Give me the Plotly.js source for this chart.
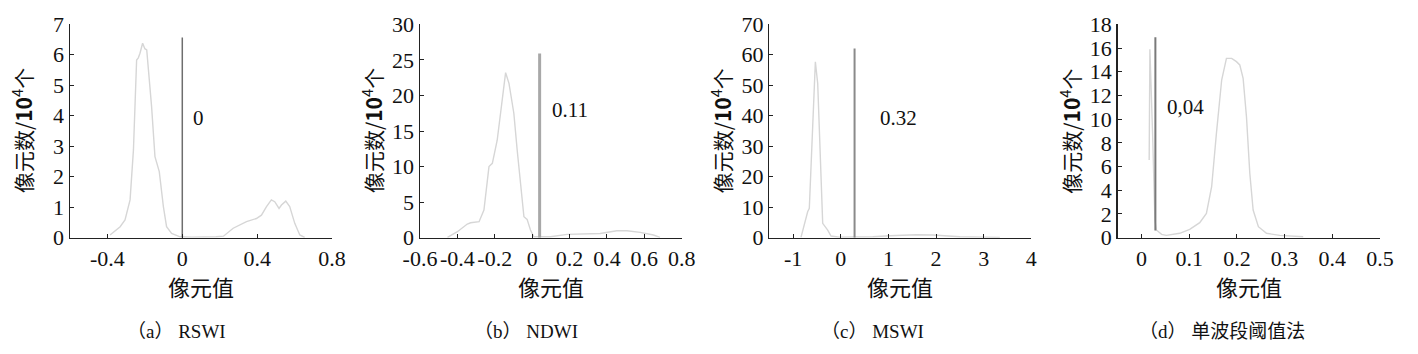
<!DOCTYPE html>
<html>
<head>
<meta charset="utf-8">
<script src="https://cdn.plot.ly/plotly-3.0.1.min.js"></script>
<style>
html,body{margin:0;padding:0;background:#fff;}
#chart{width:1418px;height:354px;}
</style>
</head>
<body>
<div id="chart"></div>
<script>
// ---- Data ----
// (a) RSWI
const rswiX = [-0.386,-0.332,-0.306,-0.279,-0.261,-0.244,-0.235,-0.226,-0.212,-0.200,-0.190,-0.181,-0.164,-0.146,-0.123,-0.101,-0.084,-0.057,-0.012,0.05,0.12,0.18,0.22,0.272,0.343,0.396,0.423,0.450,0.476,0.494,0.517,0.530,0.553,0.574,0.601,0.628,0.654];
const rswiY = [0.09,0.36,0.58,1.24,2.88,5.83,5.9,6.05,6.38,6.2,6.16,5.6,4.3,2.66,2.17,1.02,0.36,0.14,0.03,0.02,0.02,0.03,0.05,0.31,0.53,0.63,0.74,1.02,1.24,1.18,0.96,1.07,1.2,1.02,0.47,0.09,0.01];
// (b) NDWI
const ndwiX = [-0.453,-0.400,-0.347,-0.329,-0.284,-0.258,-0.231,-0.213,-0.187,-0.160,-0.142,-0.124,-0.098,-0.080,-0.062,-0.044,-0.027,-0.009,0.009,0.098,0.187,0.276,0.364,0.453,0.507,0.578,0.649,0.684];
const ndwiY = [0.05,0.84,1.92,2.1,2.25,3.9,10,10.45,13.7,19.4,23.2,21.7,17.5,12.3,7.2,2.95,2.58,1.08,0.14,0.14,0.47,0.52,0.6,0.98,0.98,0.75,0.38,0.05];
// (c) MSWI
const mswiX = [-0.835,-0.765,-0.695,-0.660,-0.604,-0.533,-0.484,-0.435,-0.379,-0.274,-0.204,-0.030,0.30,0.674,1.025,1.586,1.937,2.50,2.99,3.34];
const mswiY = [0.1,4.7,8.5,9.6,28.8,57.7,50.6,28.8,4.7,2.5,0.55,0.2,0.2,0.33,0.66,0.98,0.87,0.33,0.2,0.1];
// (d) 单波段阈值法
const sbX = [0.0160,0.0175,0.0230,0.0280,0.0310,0.042,0.052,0.080,0.101,0.122,0.136,0.147,0.157,0.168,0.178,0.189,0.199,0.206,0.213,0.220,0.227,0.234,0.245,0.262,0.290,0.339];
const sbY = [6.55,15.9,9.0,1.5,0.65,0.28,0.2,0.37,0.7,1.27,2.05,4.3,8.8,13.3,15.13,15.13,14.85,14.57,13.44,10.2,5.43,2.33,0.93,0.37,0.2,0.08];

// threshold lines and labels
const thrX = [0, 0.04, 0.29, 0.029];
const thrTop = [6.57, 25.9, 62.1, 16.9];
const thrBottom = [0, 0, 0, 0.6];
const thrLabel = ['0', '0.11', '0.32', '0,04'];
const thrLabelX = [0.089, 0.204, 1.215, 0.092];
const thrLabelY = [3.93, 18.0, 39.3, 11.05];

// axes
const xRanges = [[-0.6, 0.8], [-0.6, 0.8], [-1.5, 4], [-0.05, 0.5]];
const yRanges = [[0, 7], [0, 30], [0, 70], [0, 18]];
const xTicks = [[-0.4, 0, 0.4, 0.8], [-0.6,-0.4,-0.2,0,0.2,0.4,0.6,0.8], [-1,0,1,2,3,4], [0,0.1,0.2,0.3,0.4,0.5]];
const xTickText = [['-0.4','0','0.4','0.8'], ['-0.6','-0.4','-0.2','0','0.2','0.4','0.6','0.8'], ['-1','0','1','2','3','4'], ['0','0.1','0.2','0.3','0.4','0.5']];
const yDtick = [1, 5, 10, 2];
const captions = ['（a） RSWI', '（b） NDWI', '（c） MSWI', '（d） 单波段阈值法'];
const captionX = [176, 526, 872, 1222];
const yTitle = '像元数/<b>10</b><sup>4</sup>个';
const xTitle = '像元值';

const curves = [[rswiX, rswiY], [ndwiX, ndwiY], [mswiX, mswiY], [sbX, sbY]];
const thrColor = ['#6e6e6e', '#a8a8a8', '#8a8a8a', '#7a7a7a'];
const thrWidth = [1.5, 3, 2, 2];

// ---- Layout ----
const W = 1418, H = 354;
const domX = [[70, 332], [420, 681.7], [769.3, 1031.3], [1117.7, 1380]];
const domY = [1 - 237.7 / H, 1 - 24.3 / H];
const serif = 'Times New Roman';
const cjk = 'Noto Sans CJK SC';

const traces = [];
const layout = {
  width: W, height: H,
  margin: {l: 0, r: 0, t: 0, b: 0},
  paper_bgcolor: '#fff', plot_bgcolor: '#fff',
  showlegend: false,
  annotations: []
};

for (let i = 0; i < 4; i++) {
  const sfx = i === 0 ? '' : String(i + 1);
  const xa = 'x' + sfx, ya = 'y' + sfx;
  traces.push({
    x: curves[i][0], y: curves[i][1], xaxis: xa, yaxis: ya,
    type: 'scatter', mode: 'lines',
    line: {color: '#d6d6d6', width: 1.4},
    hoverinfo: 'skip'
  });
  traces.push({
    x: [thrX[i], thrX[i]], y: [thrBottom[i], thrTop[i]], xaxis: xa, yaxis: ya,
    type: 'scatter', mode: 'lines',
    line: {color: thrColor[i], width: thrWidth[i]},
    hoverinfo: 'skip'
  });
  const axBase = {
    showgrid: false, zeroline: false, showline: true, linecolor: '#222', linewidth: 1.5,
    ticks: 'inside', ticklen: 4, tickwidth: 1, tickcolor: '#222',
    tickfont: {family: serif, size: 22, color: '#111'},
    fixedrange: true
  };
  layout['xaxis' + sfx] = Object.assign({}, axBase, {
    domain: [domX[i][0] / W, domX[i][1] / W],
    range: xRanges[i], tickmode: 'array', tickvals: xTicks[i], ticktext: xTickText[i],
    anchor: ya, ticklabelstandoff: 0
  });
  layout['yaxis' + sfx] = Object.assign({}, axBase, {
    domain: domY, range: yRanges[i], dtick: yDtick[i], tick0: 0,
    anchor: xa, ticklabelstandoff: 0
  });
  layout.annotations.push({
    xref: xa, yref: ya, x: thrLabelX[i], y: thrLabelY[i], text: thrLabel[i],
    showarrow: false, xanchor: 'center', yanchor: 'middle',
    font: {family: serif, size: 21, color: '#111'}
  });
  layout.annotations.push({
    xref: xa + ' domain', yref: ya + ' domain', x: 0, y: 0.5, xshift: -48,
    text: yTitle, textangle: -90, showarrow: false, xanchor: 'center', yanchor: 'middle',
    font: {family: cjk, size: 21, color: '#111'}
  });
  layout.annotations.push({
    xref: xa + ' domain', yref: 'paper', x: 0.5, y: 1 - 286 / H,
    text: xTitle, showarrow: false, xanchor: 'center', yanchor: 'middle',
    font: {family: cjk, size: 22, color: '#111'}
  });
  layout.annotations.push({
    xref: 'paper', yref: 'paper', x: captionX[i] / W, y: 1 - 331 / H,
    text: captions[i], showarrow: false, xanchor: 'center', yanchor: 'middle',
    font: {family: 'Times New Roman, Noto Sans CJK SC', size: 19, color: '#111'}
  });
}

Plotly.newPlot('chart', traces, layout, {staticPlot: true, displayModeBar: false});
</script>
</body>
</html>
